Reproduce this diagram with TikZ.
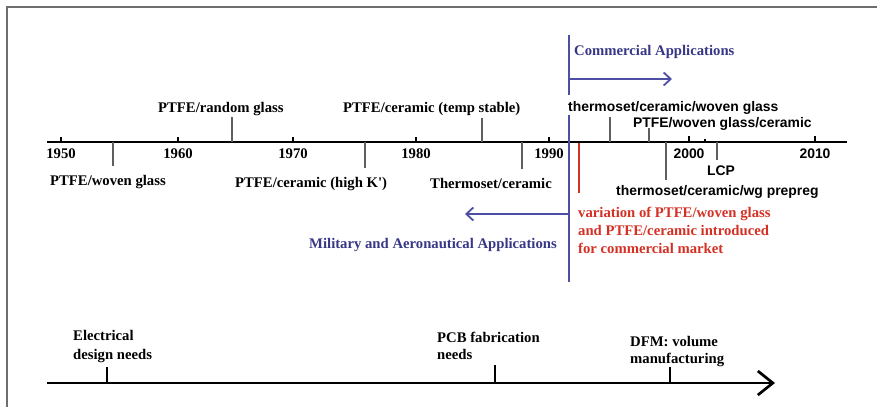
\documentclass[tikz,border=0pt]{standalone}
\usepackage{fontspec}
\setmainfont{Liberation Serif}
\setsansfont{Liberation Sans}
\usepackage{xcolor}
\usetikzlibrary{arrows.meta}
\definecolor{appblue}{RGB}{78,78,165}
\definecolor{apptext}{RGB}{55,55,135}
\definecolor{introred}{RGB}{212,48,36}
\definecolor{eventgray}{RGB}{95,95,95}
\definecolor{framegray}{RGB}{110,110,110}
\tikzset{
  serlabel/.style={font=\fontsize{14.7}{18}\selectfont\bfseries, inner sep=0pt},
  sanlabel/.style={font=\fontsize{13.9}{17}\selectfont\sffamily\bfseries, inner sep=0pt},
  axisline/.style={line width=2.7pt, black},
  yeartick/.style={line width=1.8pt, black},
  eventline/.style={line width=1.4pt, eventgray},
  splitline/.style={line width=2.4pt, appblue},
  apparrow/.style={line width=1.8pt, appblue, -{Straight Barb[length=7pt,width=13pt]}},
}
\begin{document}
\begin{tikzpicture}[x=1pt,y=-1pt]
\useasboundingbox (0,0) rectangle (877,407);
\draw[framegray,line width=2pt] (7,407) -- (7,7) -- (877,7);
% time line
\coordinate (axisL) at (47,142);
\coordinate (axisR) at (847,142);
\draw[axisline] (axisL) -- (axisR);
\foreach \x/\yr in {61/1950,178/1960,293/1970,416/1980,549/1990}{
  \draw[yeartick] (\x,142) -- (\x,137);
  \node[serlabel,anchor=base] (yr\yr) at (\x,158) {\yr};
}
\foreach \x/\yr in {689/2000,815/2010}{
  \draw[yeartick] (\x,142) -- (\x,136);
  \node[sanlabel,anchor=base] (yr\yr) at (\x,158) {\yr};
}
\draw[yeartick] (705,142) -- (705,139);
% materials above the line
\coordinate (randomglass) at (232,142);
\draw[eventline] (randomglass) -- ++(0,-25);
\node[serlabel,anchor=base west] (lblrandom) at (158,112) {PTFE/random glass};
\coordinate (tempstable) at (482,142);
\draw[eventline] (tempstable) -- ++(0,-24);
\node[serlabel,anchor=base west] (lbltemp) at (343,112) {PTFE/ceramic (temp stable)};
\coordinate (tcwoven) at (610,142);
\draw[eventline] (tcwoven) -- ++(0,-25);
\node[sanlabel,anchor=base west] (lbltcwoven) at (568,111) {thermoset/ceramic/woven glass};
\coordinate (ptfewgc) at (649,142);
\draw[eventline] (ptfewgc) -- ++(0,-14);
\node[sanlabel,anchor=base west] (lblptfewgc) at (633,127) {PTFE/woven glass/ceramic};
% materials below the line
\coordinate (wovenglass) at (113,142);
\draw[eventline] (wovenglass) -- ++(0,24);
\node[serlabel,anchor=base west] (lblwoven) at (50,185) {PTFE/woven glass};
\coordinate (highk) at (365,142);
\draw[eventline] (highk) -- ++(0,26);
\node[serlabel,anchor=base west] (lblhighk) at (235,187) {PTFE/ceramic (high K\textquotesingle)};
\coordinate (thermoset) at (522,142);
\draw[eventline] (thermoset) -- ++(0,27);
\node[serlabel,anchor=base west] (lbltherm) at (430,188) {Thermoset/ceramic};
\coordinate (prepreg) at (666,142);
\draw[eventline] (prepreg) -- ++(0,38);
\node[sanlabel,anchor=base west] (lblprepreg) at (616,195) {thermoset/ceramic/wg prepreg};
\coordinate (lcp) at (717,142);
\draw[eventline] (lcp) -- ++(0,18);
\node[sanlabel,anchor=base] (lbllcp) at (721,175) {LCP};
% commercial / military split
\coordinate (splittop) at (569,35);
\coordinate (splitbot) at (569,282);
\draw[splitline] (splittop) -- (569,95);
\draw[splitline] (569,115) -- (splitbot);
\node[serlabel,text=apptext,anchor=base west] (commercial) at (574,55) {Commercial Applications};
\draw[apparrow] (569,79) -- (672,79);
\draw[apparrow] (569,214) -- (465,214);
\node[serlabel,text=apptext,anchor=base east] (military) at (557,248) {Military and Aeronautical Applications};
\coordinate (variation) at (579,143);
\draw[introred,line width=1.4pt] (variation) -- ++(0,50);
\node[serlabel,text=introred,anchor=base west,align=left] (lblvariation) at (578,253)
  {variation of PTFE/woven glass\\ and PTFE/ceramic introduced\\ for commercial market};
% needs line
\coordinate (needsL) at (47,383);
\coordinate (needsR) at (775,383);
\draw[axisline,-{Straight Barb[length=15pt,width=24pt]}] (needsL) -- (needsR);
\coordinate (elecneed) at (107,383);
\draw[yeartick,line width=1.4pt] (elecneed) -- ++(0,-16);
\node[serlabel,anchor=base west,align=left,font=\fontsize{14.7}{19}\selectfont\bfseries] (lblelec) at (73,359) {Electrical\\ design needs};
\coordinate (pcbneed) at (495,383);
\draw[yeartick,line width=1.4pt] (pcbneed) -- ++(0,-18);
\node[serlabel,anchor=base west,align=left,font=\fontsize{14.7}{17}\selectfont\bfseries] (lblpcb) at (437,359) {PCB fabrication\\ needs};
\coordinate (dfmneed) at (670,383);
\draw[yeartick,line width=1.4pt] (dfmneed) -- ++(0,-16);
\node[serlabel,anchor=base west,align=left,font=\fontsize{14.7}{17}\selectfont\bfseries] (lbldfm) at (630,363) {DFM: volume\\ manufacturing};
\end{tikzpicture}
\end{document}
